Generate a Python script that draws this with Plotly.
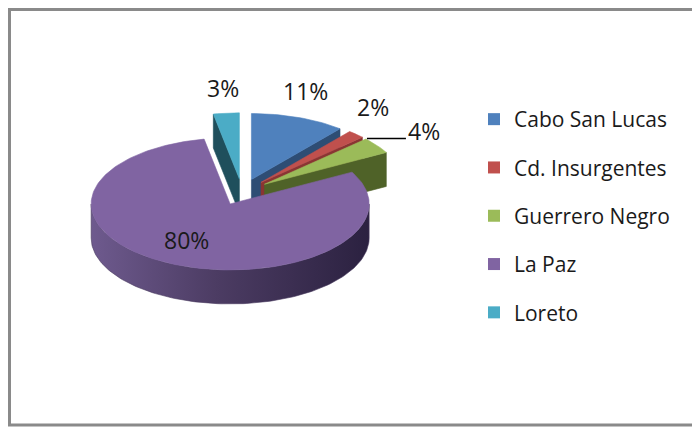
import numpy as np
import plotly.graph_objects as go

# ---- data ----
categories = ["Cabo San Lucas", "Cd. Insurgentes", "Guerrero Negro", "La Paz", "Loreto"]
values = [11, 2, 4, 80, 3]

# ---- styles ----
top_colors = ["#4F81BD", "#C0504D", "#9BBB59", "#8064A2", "#4BACC6"]
wall_colors = ["#2E4D74", "#8A3533", "#4F6228", "#4A3A60", "#1F4F5C"]
legend_colors = ["#4F81BD", "#C0504D", "#9BBB59", "#8064A2", "#4BACC6"]
FONT = "Open Sans"
TXT = "#1a1a1a"

# figure sits 8px inside the page (body margin), so size it to fit the window
FIG_W, FIG_H, OFF = 692, 420, 8

# ---- geometry (reference pixel space) ----
CX0, CY0 = 242, 192
RX, RY = 139, 66
DEPTH = 34
EXPLODE = 0.2
label_off = [(7, -26), (17, -27), (47, -14), None, (-3, -25)]
inside_factor = 0.5
inside_off = (-14, 6)

total = float(sum(values))
fracs = [v / total for v in values]
starts = np.concatenate([[0], np.cumsum(fracs)[:-1]]) * 360
ends = np.cumsum(fracs) * 360
mids = (starts + ends) / 2


def pt(cx, cy, th, r=1.0, dy=0.0):
    t = np.radians(th)
    return cx + r * RX * np.sin(t), cy - r * RY * np.cos(t) + dy


def arc(cx, cy, a0, a1, dy=0.0):
    n = max(4, int(abs(a1 - a0) / 1.5))
    th = np.linspace(a0, a1, n)
    x, y = pt(cx, cy, th, dy=dy)
    return list(x), list(y)


fig = go.Figure()


def poly(xs, ys, color, grad=None):
    kw = dict(x=xs + [xs[0]], y=ys + [ys[0]], mode="lines", fill="toself",
              fillcolor=color, line=dict(color=color, width=0.6),
              hoverinfo="skip", showlegend=False)
    if grad is not None:
        kw["fillgradient"] = grad
    fig.add_trace(go.Scatter(**kw))


order = sorted(range(len(values)), key=lambda i: -np.cos(np.radians(mids[i])))
centers = {}
for i in range(len(values)):
    m = np.radians(mids[i])
    centers[i] = (CX0 + EXPLODE * RX * np.sin(m), CY0 - EXPLODE * RY * np.cos(m))

for i in order:
    cx, cy = centers[i]
    a0, a1 = starts[i], ends[i]
    wc = wall_colors[i]
    if np.sin(np.radians(a0)) < -1e-9:
        rx_, ry_ = pt(cx, cy, a0)
        poly([cx, rx_, rx_, cx], [cy, ry_, ry_ + DEPTH, cy + DEPTH], wc)
    if np.sin(np.radians(a1)) > 1e-9:
        rx_, ry_ = pt(cx, cy, a1)
        poly([cx, rx_, rx_, cx], [cy, ry_, ry_ + DEPTH, cy + DEPTH], wc)
    lo, hi = max(a0, 90), min(a1, 270)
    if hi > lo:
        tx, ty = arc(cx, cy, lo, hi)
        bx, by = arc(cx, cy, hi, lo, dy=DEPTH)
        grad = None
        if i == 3:
            grad = dict(type="horizontal",
                        colorscale=[[0, "#6E5A8E"], [0.45, "#4C3C63"], [1, "#2B2140"]])
        poly(tx + bx, ty + by, wc, grad)
    ax, ay = arc(cx, cy, a0, a1)
    poly([cx] + ax, [cy] + ay, top_colors[i])

# ---- labels ----
for i in range(len(values)):
    cx, cy = centers[i]
    txt = f"{round(values[i] / total * 100)}%"
    if label_off[i] is None:
        lx, ly = pt(cx, cy, mids[i], r=inside_factor)
        lx, ly = lx + inside_off[0], ly + inside_off[1]
    else:
        rx_, ry_ = pt(cx, cy, mids[i])
        lx, ly = rx_ + label_off[i][0], ry_ + label_off[i][1]
        if label_off[i][0] > 30:
            fig.add_trace(go.Scatter(x=[rx_ - 10, lx - 18], y=[ly + 7, ly + 7], mode="lines",
                                     line=dict(color="black", width=1.5),
                                     hoverinfo="skip", showlegend=False))
    fig.add_annotation(x=lx, y=ly, text=txt, showarrow=False, xanchor="center",
                       yanchor="middle", font=dict(family=FONT, size=23, color=TXT))

# ---- legend entries ----
for i, name in enumerate(categories):
    fig.add_trace(go.Scatter(x=[None], y=[None], mode="markers", name=name,
                             legendgroup=name,
                             marker=dict(symbol="square", size=12, color=legend_colors[i])))

# chart-area border
fig.add_shape(type="rect", xref="paper", yref="paper",
              x0=1.5 / FIG_W, x1=1.05, y0=1 - (425 - OFF) / FIG_H, y1=1 - 1.5 / FIG_H,
              line=dict(color="#8a8a8a", width=3), layer="above")

fig.update_layout(
    width=FIG_W, height=FIG_H,
    margin=dict(l=0, r=0, t=0, b=0),
    paper_bgcolor="white", plot_bgcolor="white",
    xaxis=dict(range=[OFF, OFF + FIG_W], visible=False, fixedrange=True),
    yaxis=dict(range=[OFF + FIG_H, OFF], visible=False, fixedrange=True),
    showlegend=True,
    legend=dict(x=(474 - OFF) / FIG_W, y=1 - (99 - OFF) / FIG_H, xanchor="left", yanchor="top",
                traceorder="grouped", tracegroupgap=18,
                font=dict(family=FONT, size=21, color=TXT),
                bgcolor="rgba(0,0,0,0)"),
)

fig.write_html("out.html")
